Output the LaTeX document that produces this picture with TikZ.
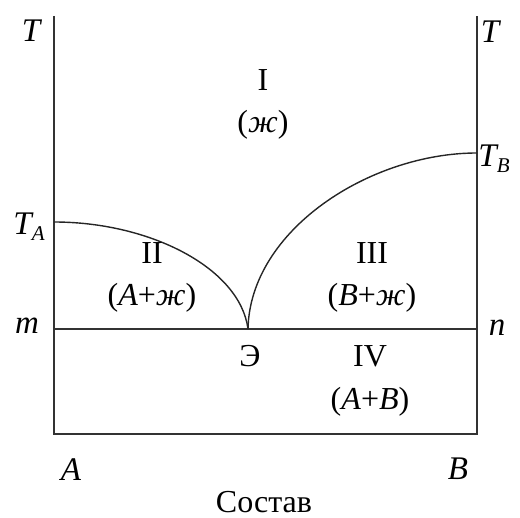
\documentclass[tikz,border=0pt]{standalone}
\usepackage{fontspec}
\setmainfont{Liberation Serif}
\begin{document}
\begin{tikzpicture}[x=1pt,y=-1pt,
  axis/.style={draw=black!80,line width=1.8pt},
  curve/.style={draw=black!85,line width=1.4pt},
  lbl/.style={font=\fontsize{32}{34}\selectfont,inner sep=0pt},
  ilbl/.style={font=\fontsize{33}{35}\selectfont\itshape,inner sep=0pt}]
\useasboundingbox (0,0) rectangle (520,518);
\coordinate (LT) at (54,16);
\coordinate (RT) at (477,16);
\coordinate (LB) at (54,434);
\coordinate (RB) at (477,434);
\coordinate (M) at (54,329);
\coordinate (N) at (477,329);
\coordinate (TA) at (54,222);
\coordinate (TB) at (477,153);
\coordinate (E) at (248,329);
\draw[axis] (LT) -- (LB) -- (RB) -- (RT);
\draw[axis] (M) -- (N);
\draw[curve] (TA) .. controls (150,222) and (240,268) .. (E);
\draw[curve] (E) .. controls (250,230) and (370,153) .. (TB);
\node[ilbl] (tl) at (31,31) {T};
\node[ilbl] (tr) at (490,32) {T};
\node[ilbl] (ta) at (29,227) {T\raisebox{-6pt}{\fontsize{21}{22}\selectfont A}};
\node[ilbl] (tb) at (494,159) {T\raisebox{-6pt}{\fontsize{21}{22}\selectfont B}};
\node[ilbl] (m) at (27,326) {m};
\node[ilbl] (n) at (497,328) {n};
\node[ilbl] (a) at (71,470) {A};
\node[ilbl] (b) at (458,469) {B};
\node[lbl] (sostav) at (264,502) {Состав};
\node[lbl] (eut) at (250,356) {Э};
\node[lbl] (r1) at (263,80) {I};
\node[lbl] (r1b) at (263,125) {(\textit{ж})};
\node[lbl] (r2) at (152,253) {II};
\node[lbl] (r2b) at (152,298) {(\textit{A}+\textit{ж})};
\node[lbl] (r3) at (372,253) {III};
\node[lbl] (r3b) at (372,298) {(\textit{B}+\textit{ж})};
\node[lbl] (r4) at (370,356) {IV};
\node[lbl] (r4b) at (370,402) {(\textit{A}+\textit{B})};
\end{tikzpicture}
\end{document}
